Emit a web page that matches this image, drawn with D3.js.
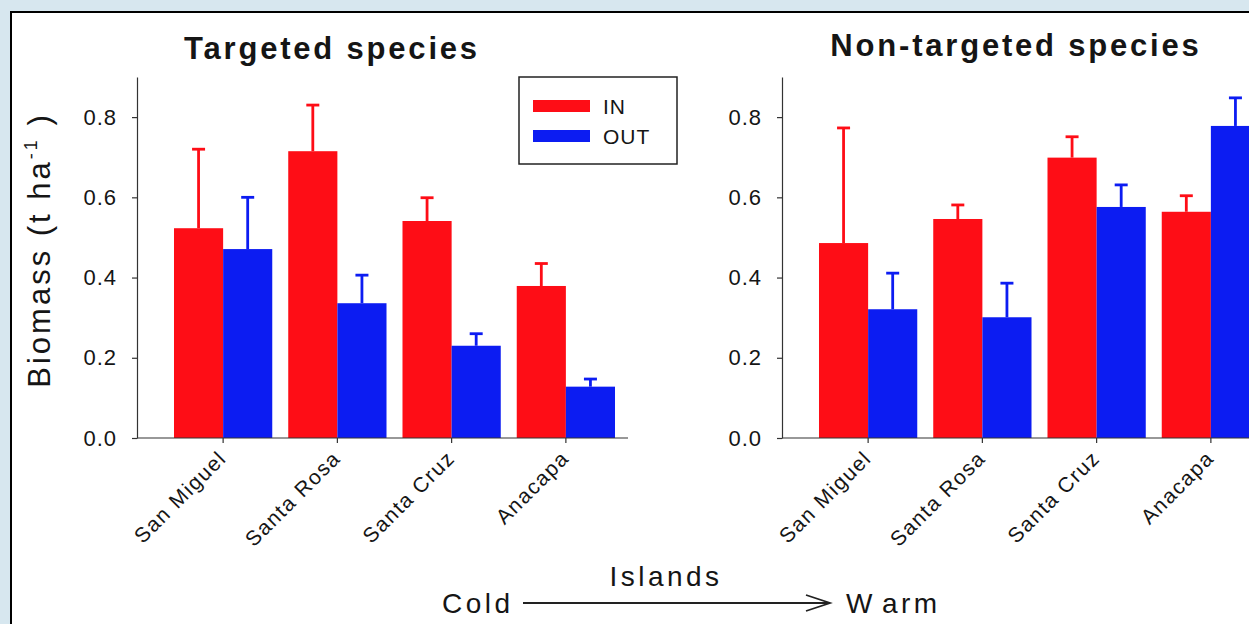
<!DOCTYPE html>
<html><head><meta charset="utf-8">
<script src="https://cdn.jsdelivr.net/npm/d3@7"></script>
<style>
html,body{margin:0;padding:0;background:#d7e7ef;overflow:hidden;}
svg{display:block;}
text{font-family:"Liberation Sans",Arial,sans-serif;fill:#151515;}
</style></head><body>
<svg id="chart" width="1249" height="624"></svg>
<script>
// ---- data ----
const islands = ["San Miguel", "Santa Rosa", "Santa Cruz", "Anacapa"];
const seriesNames = ["IN", "OUT"];
const targetedIN = [0.523, 0.715, 0.541, 0.379];
const targetedINse = [0.197, 0.115, 0.058, 0.056];
const targetedOUT = [0.471, 0.336, 0.230, 0.128];
const targetedOUTse = [0.129, 0.070, 0.030, 0.019];
const nonTargetedIN = [0.486, 0.546, 0.699, 0.564];
const nonTargetedINse = [0.287, 0.035, 0.052, 0.040];
const nonTargetedOUT = [0.321, 0.301, 0.576, 0.778];
const nonTargetedOUTse = [0.090, 0.085, 0.055, 0.070];
const yTicks = [0, 0.2, 0.4, 0.6, 0.8];
const panelTitles = ["Targeted species", "Non-targeted species"];
const yAxisTitle = "Biomass (t ha";
const xTitle = "Islands";
const coldLabel = "Cold";
const warmLabel = "Warm";
const colors = {IN: "#fe0d16", OUT: "#0c1cf2"};

const svg = d3.select("#chart");

// white panel with dark border (top/left visible)
svg.append("rect").attr("x", 11).attr("y", 12).attr("width", 1300).attr("height", 700)
  .attr("fill", "#fff").attr("stroke", "#000").attr("stroke-width", 2);

const y = d3.scaleLinear().domain([0, 0.9]).range([438, 77]);

const panels = [
  {x0: 137, title: panelTitles[0], titleX: 332, titleY: 59,
   IN: targetedIN, INse: targetedINse, OUT: targetedOUT, OUTse: targetedOUTse},
  {x0: 782, title: panelTitles[1], titleX: 1016, titleY: 56,
   IN: nonTargetedIN, INse: nonTargetedINse, OUT: nonTargetedOUT, OUTse: nonTargetedOUTse}
];

panels.forEach((p, pi) => {
  const g = svg.append("g");
  const x = d3.scaleBand().domain(islands).range([p.x0 + 29, p.x0 + 486])
    .paddingInner(0.14).paddingOuter(0.07);
  const xs = d3.scaleBand().domain(seriesNames).range([0, x.bandwidth()]);

  const rows = islands.map((isl, i) => ({
    island: isl,
    vals: [
      {s: "IN", v: p.IN[i], e: p.INse[i]},
      {s: "OUT", v: p.OUT[i], e: p.OUTse[i]}
    ]
  }));

  const grp = g.selectAll("g.grp").data(rows).join("g")
    .attr("transform", d => `translate(${x(d.island)},0)`);

  grp.selectAll("rect").data(d => d.vals).join("rect")
    .attr("x", d => xs(d.s)).attr("width", xs.bandwidth())
    .attr("y", d => y(d.v)).attr("height", d => y(0) - y(d.v))
    .attr("fill", d => colors[d.s]);

  // error bars (upper)
  grp.selectAll("line.err").data(d => d.vals).join("line").attr("class", "err")
    .attr("x1", d => xs(d.s) + xs.bandwidth() / 2).attr("x2", d => xs(d.s) + xs.bandwidth() / 2)
    .attr("y1", d => y(d.v)).attr("y2", d => y(d.v + d.e))
    .attr("stroke", d => colors[d.s]).attr("stroke-width", 2.8);
  grp.selectAll("line.cap").data(d => d.vals).join("line").attr("class", "cap")
    .attr("x1", d => xs(d.s) + xs.bandwidth() / 2 - 6.5).attr("x2", d => xs(d.s) + xs.bandwidth() / 2 + 6.5)
    .attr("y1", d => y(d.v + d.e)).attr("y2", d => y(d.v + d.e))
    .attr("stroke", d => colors[d.s]).attr("stroke-width", 2.8);

  // y axis
  const ya = g.append("g").attr("transform", `translate(${p.x0},0)`)
    .call(d3.axisLeft(y).tickValues(yTicks).tickFormat(d3.format(".1f"))
      .tickSize(5).tickSizeOuter(0).tickPadding(15));
  ya.selectAll("path,line").attr("stroke", "#333").attr("stroke-width", 1.2);
  ya.selectAll("text").attr("font-size", 22).attr("letter-spacing", "1px")
    .attr("font-family", "'Liberation Sans',Arial,sans-serif").attr("fill", "#151515");

  // x axis
  const xa = g.append("g").attr("transform", `translate(0,${y(0)})`)
    .call(d3.axisBottom(x).tickSize(5).tickSizeOuter(0).tickFormat(""));
  xa.select(".domain").remove();
  xa.selectAll("line").attr("stroke", "#333").attr("stroke-width", 1.2);
  g.append("line").attr("x1", p.x0).attr("x2", p.x0 + 491)
    .attr("y1", y(0)).attr("y2", y(0)).attr("stroke", "#333").attr("stroke-width", 1.2);

  // category labels
  g.selectAll("text.cat").data(islands).join("text").attr("class", "cat")
    .attr("transform", d => `translate(${x(d) + x.bandwidth() / 2 - 6},449) rotate(-45)`)
    .attr("text-anchor", "end").attr("dy", "0.71em")
    .attr("font-size", 21).attr("letter-spacing", "1.5px")
    .text(d => d);

  // title
  g.append("text").attr("x", p.titleX).attr("y", p.titleY).attr("text-anchor", "middle")
    .attr("font-size", 31).attr("font-weight", "bold").attr("letter-spacing", "2.8px")
    .text(p.title);
});

// y axis title
const yt = svg.append("text").attr("transform", "translate(50,250) rotate(-90)")
  .attr("text-anchor", "middle").attr("font-size", 31).attr("letter-spacing", "3px");
yt.append("tspan").text(yAxisTitle);
yt.append("tspan").attr("font-size", 18).attr("dy", -13).text("-1");
yt.append("tspan").attr("dy", 13).text(" )");

// legend
const lg = svg.append("g");
lg.append("rect").attr("x", 519).attr("y", 77).attr("width", 158).attr("height", 87)
  .attr("fill", "#fff").attr("stroke", "#222").attr("stroke-width", 1.5);
seriesNames.forEach((s, i) => {
  lg.append("rect").attr("x", 533).attr("y", 100 + i * 30).attr("width", 57).attr("height", 12)
    .attr("fill", colors[s]);
  lg.append("text").attr("x", 603).attr("y", 106 + i * 30).attr("dy", "0.36em")
    .attr("font-size", 21).attr("letter-spacing", "1px").text(s);
});

// bottom axis title with arrow
svg.append("text").attr("x", 666).attr("y", 586).attr("text-anchor", "middle")
  .attr("font-size", 28).attr("letter-spacing", "3.5px").text(xTitle);
svg.append("text").attr("x", 442).attr("y", 613)
  .attr("font-size", 28).attr("letter-spacing", "3.5px").text(coldLabel);
const wt = svg.append("text").attr("x", 846).attr("y", 613)
  .attr("font-size", 28).attr("letter-spacing", "3.5px");
wt.append("tspan").text(warmLabel.slice(0, 1));
wt.append("tspan").attr("dx", 7).text(warmLabel.slice(1));
svg.append("line").attr("x1", 523).attr("x2", 830).attr("y1", 603).attr("y2", 603)
  .attr("stroke", "#222").attr("stroke-width", 1.8);
svg.append("path").attr("d", "M806,595 L830,603 L806,611")
  .attr("fill", "none").attr("stroke", "#222").attr("stroke-width", 1.8);
</script>
</body></html>
